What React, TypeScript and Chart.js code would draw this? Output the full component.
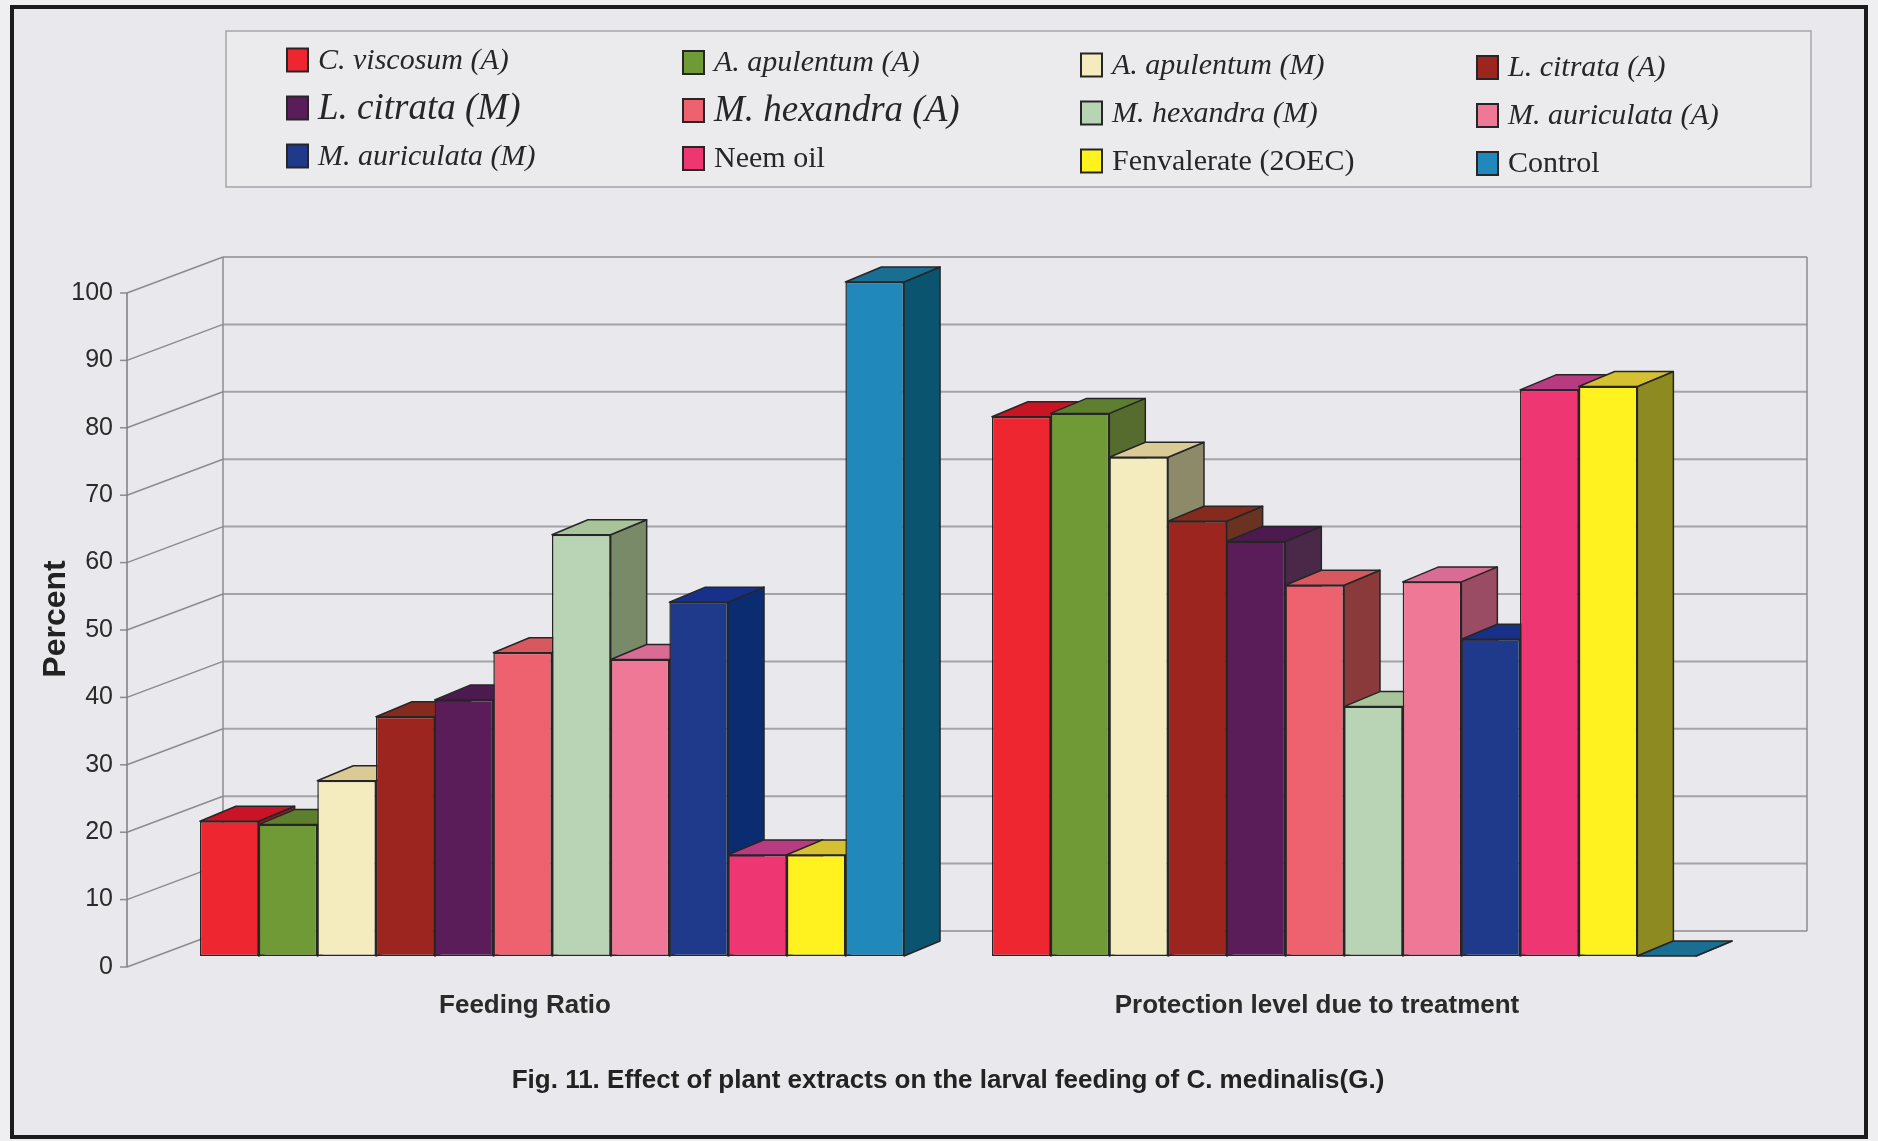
import React, { useEffect, useRef } from "react";
import { Chart, registerables } from "chart.js";

Chart.register(...registerables);

// ---- data ----
const CATEGORIES = ["Feeding Ratio", "Protection level due to treatment"];

const SERIES = [
  "C. viscosum (A)",
  "A. apulentum (A)",
  "A. apulentum (M)",
  "L. citrata (A)",
  "L. citrata (M)",
  "M. hexandra (A)",
  "M. hexandra (M)",
  "M. auriculata (A)",
  "M. auriculata (M)",
  "Neem oil",
  "Fenvalerate (2OEC)",
  "Control",
];

const FEEDING_RATIO = [20, 19.5, 26, 35.5, 38, 45, 62.5, 44, 52.5, 15, 15, 100];
const PROTECTION_LEVEL = [80, 80.5, 74, 64.5, 61.5, 55, 37, 55.5, 47, 84, 84.5, 0];

const Y_TICKS_STEP = 10;
const Y_MAX = 100;

const CAPTION = "Fig. 11. Effect of plant extracts on the larval feeding of C. medinalis(G.)";
const Y_TITLE = "Percent";

// ---- styles ----
const FRONT_COLORS = [
  "#ee2630", "#6f9a35", "#f4ecbf", "#9c2520", "#5a1d5a", "#ee6270",
  "#b9d4b4", "#ee7896", "#1f3a8a", "#ee3672", "#fff21e", "#2088bb",
];
const TOP_COLORS = [
  "#c81424", "#5e7f2e", "#d9ca96", "#872a1e", "#4d1a50", "#d85860",
  "#a8c49a", "#d86c94", "#183088", "#b83a80", "#d4c030", "#1a6e92",
];
const SIDE_COLORS = [
  "#8e1a20", "#566b2e", "#8d8a6a", "#6a3220", "#4a2848", "#8a3a3a",
  "#788a68", "#9a4c64", "#0b2c70", "#8e2a55", "#8c8a20", "#0b5470",
];
const LEGEND_ITALIC = [true, true, true, true, true, true, true, true, true, false, false, false];
const LEGEND_SIZE = [30, 30, 30, 30, 37, 37, 30, 30, 30, 30, 30, 30];

const EDGE = "#262626";
const SANS = "'Liberation Sans', Arial, sans-serif";
const SERIF = "'Liberation Serif', 'Times New Roman', serif";

// 3-D projection offsets relative to the plane of the bar fronts
const BAR_DEPTH = { dx: 36, dy: -15 };
const WALL = { dx: 67, dy: -25 };
const FRONT_AXIS = { dx: -29, dy: 11 };

// legend grid
const LEGEND_BOX = { x: 226, y: 31, w: 1585, h: 156 };
const LEGEND_COL_X = [287, 683, 1081, 1477];
const LEGEND_ROW_Y = [60, 108, 156];
const LEGEND_TILT = 2.5;
const SWATCH = { w: 21, h: 23 };

function poly(ctx: CanvasRenderingContext2D, pts: number[][], fill: string) {
  ctx.beginPath();
  ctx.moveTo(pts[0][0], pts[0][1]);
  for (let i = 1; i < pts.length; i++) ctx.lineTo(pts[i][0], pts[i][1]);
  ctx.closePath();
  ctx.fillStyle = fill;
  ctx.fill();
  ctx.stroke();
}

function line(ctx: CanvasRenderingContext2D, x1: number, y1: number, x2: number, y2: number) {
  ctx.beginPath();
  ctx.moveTo(x1, y1);
  ctx.lineTo(x2, y2);
  ctx.stroke();
}

const scene3d = {
  id: "scene3d",
  beforeDraw(chart: any) {
    const { ctx, width, height } = chart;
    ctx.save();
    ctx.fillStyle = "#efeff1";
    ctx.fillRect(0, 0, width, height);
    ctx.fillStyle = "#e9e9ed";
    ctx.fillRect(12, 7, 1854, 1130);
    ctx.strokeStyle = "#1c1c1c";
    ctx.lineWidth = 4;
    ctx.strokeRect(12, 7, 1854, 1130);

    // legend frame
    ctx.fillStyle = "#ebebee";
    ctx.fillRect(LEGEND_BOX.x, LEGEND_BOX.y, LEGEND_BOX.w, LEGEND_BOX.h);
    ctx.strokeStyle = "#a6a6aa";
    ctx.lineWidth = 1.5;
    ctx.strokeRect(LEGEND_BOX.x, LEGEND_BOX.y, LEGEND_BOX.w, LEGEND_BOX.h);

    chart.data.datasets.forEach((ds: any, k: number) => {
      const col = k % 4;
      const row = Math.floor(k / 4);
      const sx = LEGEND_COL_X[col];
      const cy = LEGEND_ROW_Y[row] + col * LEGEND_TILT;
      ctx.fillStyle = ds.backgroundColor;
      ctx.fillRect(sx, cy - SWATCH.h / 2, SWATCH.w, SWATCH.h);
      ctx.strokeStyle = EDGE;
      ctx.lineWidth = 2;
      ctx.strokeRect(sx, cy - SWATCH.h / 2, SWATCH.w, SWATCH.h);
      ctx.fillStyle = "#262626";
      ctx.font = `${LEGEND_ITALIC[k] ? "italic " : ""}${LEGEND_SIZE[k]}px ${SERIF}`;
      ctx.textBaseline = "middle";
      ctx.textAlign = "left";
      ctx.fillText(ds.label, sx + 31, cy + 1);
    });
    ctx.restore();
  },
  beforeDatasetsDraw(chart: any) {
    const { ctx, chartArea: a } = chart;
    const y = chart.scales.y;
    ctx.save();
    ctx.lineCap = "butt";
    const wl = a.left + WALL.dx;
    const wr = a.right + WALL.dx;
    const fx = a.left + FRONT_AXIS.dx;

    y.ticks.forEach((t: any) => {
      const py = y.getPixelForValue(t.value);
      ctx.strokeStyle = "#a4a4a8";
      ctx.lineWidth = 2;
      line(ctx, wl, py + WALL.dy, wr, py + WALL.dy);
      ctx.strokeStyle = "#8c8c90";
      ctx.lineWidth = 1.5;
      line(ctx, fx, py + FRONT_AXIS.dy, wl, py + WALL.dy);
      line(ctx, fx - 7, py + FRONT_AXIS.dy, fx, py + FRONT_AXIS.dy);
    });

    // back wall sides and front value axis
    ctx.strokeStyle = "#8c8c90";
    ctx.lineWidth = 1.5;
    line(ctx, wl, a.top + WALL.dy, wl, a.bottom + WALL.dy);
    line(ctx, wr, a.top + WALL.dy, wr, a.bottom + WALL.dy);
    ctx.strokeStyle = "#7c7c80";
    line(ctx, fx, a.top + FRONT_AXIS.dy, fx, a.bottom + FRONT_AXIS.dy);
    ctx.restore();
  },
  // the default pass paints series last-to-first; bars are painted below
  // left-to-right instead so nearer blocks overlap the sides of earlier ones
  beforeDatasetDraw() {
    return false;
  },
  afterDatasetsDraw(chart: any) {
    const { ctx } = chart;
    const n = chart.data.datasets.length;
    for (let i = 0; i < n; i++) {
      const meta = chart.getDatasetMeta(i);
      if (!meta.visible) continue;
      meta.controller.draw();
      ctx.save();
      ctx.strokeStyle = EDGE;
      ctx.lineWidth = 1.5;
      ctx.lineJoin = "round";
      meta.data.forEach((bar: any) => {
        const { x, y, base, width } = bar.getProps(["x", "y", "base", "width"], true);
        const l = x - width / 2;
        const r = x + width / 2;
        const { dx, dy } = BAR_DEPTH;
        poly(ctx, [[r, y], [r + dx, y + dy], [r + dx, base + dy], [r, base]], SIDE_COLORS[i]);
        poly(ctx, [[l, y], [l + dx, y + dy], [r + dx, y + dy], [r, y]], TOP_COLORS[i]);
      });
      ctx.restore();
    }
  },
};

export default function App() {
  const ref = useRef<HTMLCanvasElement>(null);

  useEffect(() => {
    const canvas = ref.current;
    if (!canvas) return;
    const tickFont = { family: SANS, size: 25 };
    const chart = new Chart(canvas, {
      type: "bar",
      data: {
        labels: CATEGORIES,
        datasets: SERIES.map((label, i) => ({
          label,
          data: [FEEDING_RATIO[i], PROTECTION_LEVEL[i]],
          backgroundColor: FRONT_COLORS[i],
          borderColor: EDGE,
          borderWidth: 1.5,
          borderSkipped: false,
          categoryPercentage: 0.889,
          barPercentage: 1,
        })),
      },
      options: {
        responsive: false,
        animation: false,
        devicePixelRatio: 1,
        layout: { padding: { left: 14, right: 138, top: 282, bottom: 0 } },
        plugins: {
          legend: { display: false },
          tooltip: { enabled: false },
          title: { display: false },
        },
        scales: {
          x: {
            grid: { display: false, drawTicks: false },
            border: { display: false },
            ticks: {
              padding: 34,
              labelOffset: -27,
              maxRotation: 0,
              color: "#2a2a2a",
              font: { family: SANS, size: 26, weight: "bold" },
            },
            title: {
              display: true,
              text: CAPTION,
              color: "#222222",
              font: { family: SANS, size: 26, weight: "bold" },
              padding: { top: 0, bottom: 45 },
            },
            afterFit: (s: any) => {
              s.height = 185;
            },
          },
          y: {
            min: 0,
            max: Y_MAX,
            grid: { display: false, drawTicks: false },
            border: { display: false },
            ticks: {
              stepSize: Y_TICKS_STEP,
              padding: 43,
              labelOffset: 11,
              color: "#2a2a2a",
              font: tickFont,
            },
            title: {
              display: true,
              text: Y_TITLE,
              color: "#222222",
              font: { family: SANS, size: 32, weight: "bold" },
              padding: { top: 23, bottom: 0 },
            },
            afterFit: (s: any) => {
              s.width = 142;
            },
          },
        },
      } as any,
      plugins: [scene3d],
    });
    return () => chart.destroy();
  }, []);

  return (
    <div style={{ position: "absolute", left: 0, top: 0, width: 1878, height: 1141 }}>
      <canvas ref={ref} width={1878} height={1141} style={{ display: "block", width: 1878, height: 1141 }} />
    </div>
  );
}
